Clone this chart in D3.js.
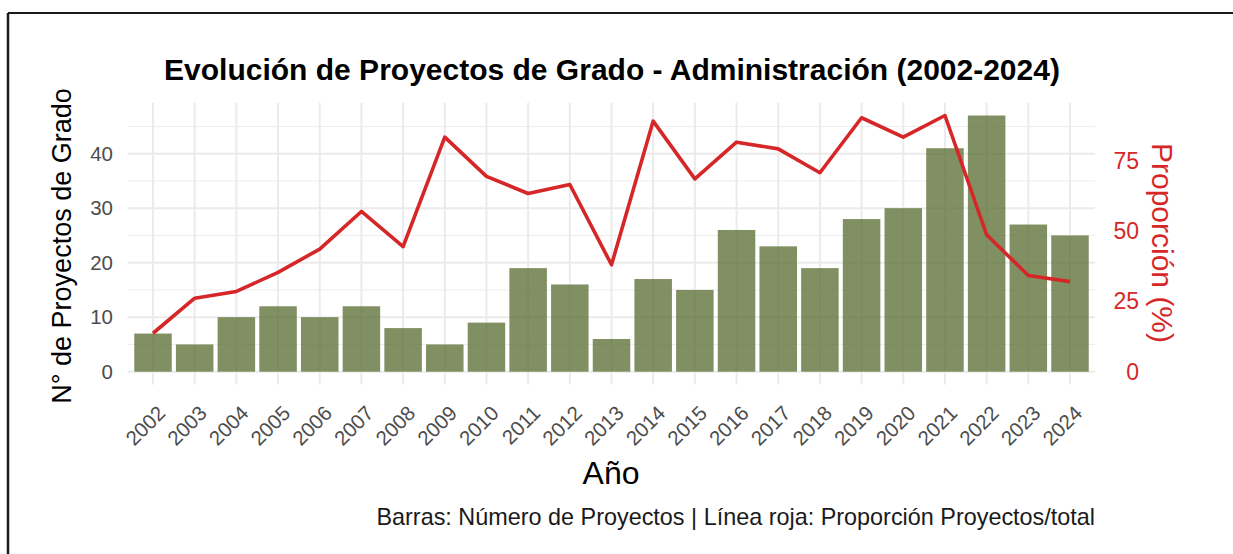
<!DOCTYPE html>
<html>
<head>
<meta charset="utf-8">
<script src="https://cdn.jsdelivr.net/npm/d3@7"></script>
<style>
  body { margin: 0; background: #fff; }
  text { font-family: "Liberation Sans", Arial, sans-serif; }
</style>
</head>
<body>
<script>
var years = ["2002","2003","2004","2005","2006","2007","2008","2009","2010","2011","2012",
  "2013","2014","2015","2016","2017","2018","2019","2020","2021","2022","2023","2024"]
var proyectos = [7, 5, 10, 12, 10, 12, 8, 5, 9, 19, 16, 6, 17, 15, 26, 23, 19, 28, 30, 41, 47, 27, 25]
var proporcion = [13.7, 26.2, 28.6, 35.4, 43.7, 57.1, 44.6, 83.6, 69.6, 63.5, 66.7, 38.1, 89.3,
  68.7, 81.8, 79.4, 70.9, 90.5, 83.6, 91.3, 48.8, 34.3, 32.1]
var leftTicks = [0, 10, 20, 30, 40]
var leftMinor = [5, 15, 25, 35, 45]
var rightTicks = [0, 25, 50, 75]

var W = 1233, H = 554
var pLeft = 128, pRight = 1095, pTop = 102.7, pBottom = 384.5
var red = "#d62728"

var svg = d3.select("body").append("svg")
  .attr("width", W)
  .attr("height", H)

// frame lines (top and left only)
svg.append("line").attr("x1", 8).attr("x2", W).attr("y1", 13).attr("y2", 13)
  .attr("stroke", "#1a1a1a").attr("stroke-width", 2)
svg.append("line").attr("x1", 8).attr("x2", 8).attr("y1", 13).attr("y2", H)
  .attr("stroke", "#1a1a1a").attr("stroke-width", 2.5)

var maxN = d3.max(proyectos)
var k = maxN / d3.max(proporcion)

var x = d3.scalePoint().domain(years).range([pLeft, pRight]).padding(0.6)
var y = d3.scaleLinear().domain([-0.05 * maxN, maxN * 1.05]).range([pBottom, pTop])
var yPct = d3.scaleLinear().domain([y.domain()[0] / k, y.domain()[1] / k]).range([pBottom, pTop])
var bw = x.step() * 0.9

// grid
var grid = svg.append("g")
grid.selectAll("line.minor").data(leftMinor).enter().append("line")
  .attr("class", "minor")
  .attr("x1", pLeft).attr("x2", pRight)
  .attr("y1", function(d) { return y(d) }).attr("y2", function(d) { return y(d) })
  .attr("stroke", "#ededed").attr("stroke-width", 1)
grid.selectAll("line.hmajor").data(leftTicks).enter().append("line")
  .attr("class", "hmajor")
  .attr("x1", pLeft).attr("x2", pRight)
  .attr("y1", function(d) { return y(d) }).attr("y2", function(d) { return y(d) })
  .attr("stroke", "#ebebeb").attr("stroke-width", 2)
grid.selectAll("line.vmajor").data(years).enter().append("line")
  .attr("class", "vmajor")
  .attr("x1", function(d) { return x(d) }).attr("x2", function(d) { return x(d) })
  .attr("y1", pTop).attr("y2", pBottom)
  .attr("stroke", "#ebebeb").attr("stroke-width", 2)

// bars
svg.selectAll("rect.bar").data(proyectos).enter().append("rect")
  .attr("class", "bar")
  .attr("x", function(d, i) { return x(years[i]) - bw / 2 })
  .attr("y", function(d) { return y(d) })
  .attr("width", bw)
  .attr("height", function(d) { return y(0) - y(d) })
  .attr("fill", "#556B2F")
  .attr("fill-opacity", 0.75)

// proportion line
var line = d3.line()
  .x(function(d, i) { return x(years[i]) })
  .y(function(d) { return yPct(d) })
svg.append("path")
  .datum(proporcion)
  .attr("d", line)
  .attr("fill", "none")
  .attr("stroke", red)
  .attr("stroke-width", 3.6)
  .attr("stroke-linejoin", "round")

// left axis
var gl = svg.append("g")
  .attr("transform", "translate(" + pLeft + ",0)")
  .call(d3.axisLeft(y).tickValues(leftTicks).tickSize(0).tickPadding(15))
gl.select(".domain").remove()
gl.selectAll("text")
  .attr("font-size", 20.5)
  .attr("font-family", "Liberation Sans, Arial, sans-serif")
  .attr("fill", "#4d4d4d")

// right axis
var gr = svg.append("g")
  .attr("transform", "translate(" + pRight + ",0)")
  .call(d3.axisRight(yPct).tickValues(rightTicks).tickSize(0))
gr.select(".domain").remove()
gr.selectAll("text")
  .attr("x", 44)
  .attr("text-anchor", "end")
  .attr("font-size", 23)
  .attr("font-family", "Liberation Sans, Arial, sans-serif")
  .attr("fill", red)

// bottom axis
var gb = svg.append("g")
  .attr("transform", "translate(0," + pBottom + ")")
  .call(d3.axisBottom(x).tickSize(0))
gb.select(".domain").remove()
gb.selectAll("text")
  .attr("x", 0).attr("y", 0).attr("dy", 0)
  .attr("text-anchor", "end")
  .attr("transform", "translate(13,30) rotate(-45)")
  .attr("font-size", 20.5)
  .attr("font-family", "Liberation Sans, Arial, sans-serif")
  .attr("fill", "#4d4d4d")

// titles
svg.append("text")
  .attr("x", 612).attr("y", 80)
  .attr("text-anchor", "middle")
  .attr("font-size", 30)
  .attr("font-weight", "bold")
  .text("Evolución de Proyectos de Grado - Administración (2002-2024)")

svg.append("text")
  .attr("x", 611).attr("y", 484)
  .attr("text-anchor", "middle")
  .attr("font-size", 32)
  .text("Año")

svg.append("text")
  .attr("transform", "translate(71,246) rotate(-90)")
  .attr("text-anchor", "middle")
  .attr("font-size", 27)
  .text("N° de Proyectos de Grado")

svg.append("text")
  .attr("transform", "translate(1152,243) rotate(90)")
  .attr("text-anchor", "middle")
  .attr("font-size", 30)
  .attr("fill", red)
  .text("Proporción (%)")

svg.append("text")
  .attr("x", pRight).attr("y", 525)
  .attr("text-anchor", "end")
  .attr("font-size", 23.4)
  .attr("fill", "#1a1a1a")
  .text("Barras: Número de Proyectos | Línea roja: Proporción Proyectos/total")
</script>
</body>
</html>
